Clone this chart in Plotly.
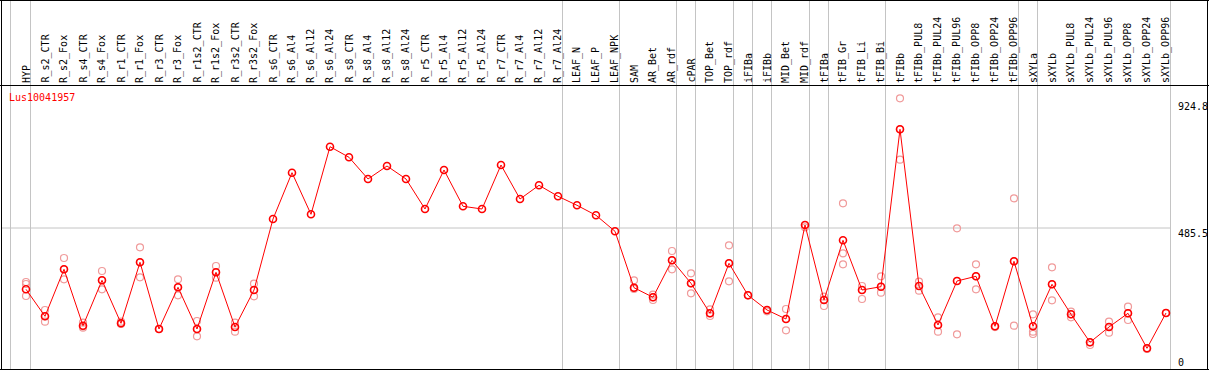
import plotly.graph_objects as go

# ---------------- data ----------------
title = "Lus10041957"

categories = [
    "HYP", "R_s2_CTR", "R_s2_Fox", "R_s4_CTR", "R_s4_Fox", "R_r1_CTR", "R_r1_Fox",
    "R_r3_CTR", "R_r3_Fox", "R_r1s2_CTR", "R_r1s2_Fox", "R_r3s2_CTR", "R_r3s2_Fox",
    "R_s6_CTR", "R_s6_Al4", "R_s6_Al12", "R_s6_Al24", "R_s8_CTR", "R_s8_Al4",
    "R_s8_Al12", "R_s8_Al24", "R_r5_CTR", "R_r5_Al4", "R_r5_Al12", "R_r5_Al24",
    "R_r7_CTR", "R_r7_Al4", "R_r7_Al12", "R_r7_Al24", "LEAF_N", "LEAF_P", "LEAF_NPK",
    "SAM", "AR_Bet", "AR_rdf", "cPAR", "TOP_Bet", "TOP_rdf", "iFIBa", "iFIBb",
    "MID_Bet", "MID_rdf", "tFIBa", "tFIB_Gr", "tFIB_Li", "tFIB_Bi", "tFIBb",
    "tFIBb_PUL8", "tFIBb_PUL24", "tFIBb_PUL96", "tFIBb_OPP8", "tFIBb_OPP24",
    "tFIBb_OPP96", "sXYLa", "sXYLb", "sXYLb_PUL8", "sXYLb_PUL24", "sXYLb_PUL96",
    "sXYLb_OPP8", "sXYLb_OPP24", "sXYLb_OPP96",
]

mean_values = [
    277.9, 186.4, 345.6, 154.6, 308.4, 162.7, 369.3, 143.4, 284.7, 143.4, 335.5,
    150.2, 275.5, 516.0, 672.8, 531.9, 760.9, 725.0, 651.5, 695.5, 651.5, 549.9,
    682.0, 559.0, 549.9, 698.9, 583.7, 630.1, 592.9, 562.4, 528.5, 474.3, 283.3,
    250.8, 376.1, 298.2, 196.6, 365.9, 257.6, 207.8, 177.3, 495.7, 241.6, 443.8,
    275.5, 286.7, 819.8, 289.1, 157.0, 306.0, 321.9, 152.6, 372.7, 152.6, 294.8,
    193.2, 98.4, 150.2, 196.6, 78.0, 197.6,
]

replicate_values = [
    [302.6, 295.8, 255.2], [207.8, 186.4, 168.1], [383.9, 345.6, 311.7],
    [164.7, 152.0, 147.8], [339.9, 308.4, 277.9], [168.1, 162.7, 160.3],
    [420.1, 369.3, 318.5], [143.4, 143.4], [311.7, 284.7, 257.6],
    [170.5, 143.4, 118.7], [356.8, 335.5, 317.2], [164.7, 150.2, 134.3],
    [296.8, 275.5, 254.2],
    [], [], [], [], [], [], [], [], [], [], [], [], [], [], [], [], [], [], [],
    [308.4, 278.9, 283.3], [259.6, 250.8, 241.6], [407.6, 376.1, 345.6],
    [332.1, 298.2, 264.3], [210.1, 196.6, 187.4], [426.9, 365.9, 305.0],
    [257.6, 257.6], [203.4, 207.8], [211.2, 177.3, 139.0], [487.9, 495.7],
    [252.8, 241.6, 221.3], [569.2, 399.8, 362.6], [289.1, 275.5, 245.0],
    [321.9, 286.7, 266.4], [924.8, 819.8, 716.8], [303.6, 289.1, 273.1],
    [183.0, 157.0, 134.3], [484.5, 306.0, 125.5], [362.6, 321.9, 277.9],
    [152.6, 150.0], [586.1, 372.7, 154.6], [193.2, 134.3, 126.5],
    [352.4, 294.8, 240.6], [202.0, 193.2, 183.0], [98.4, 89.2],
    [168.1, 150.2, 130.9], [218.9, 196.6, 173.9], [78.0, 76.0], [197.6, 197.6],
]

# index of the last column of each group (vertical separators)
group_ends = [0, 28, 31, 34, 35, 37, 38, 39, 41, 42, 45, 52, 53, 60]

axis_tick_values = [924.8, 485.5, 0]
axis_tick_labels = ["924.8", "485.5", "0"]
mid_grid_value = 485.5

# ---------------- layout constants ----------------
W, H = 1209, 370
PX_PER_COL = 19.0
FIRST_COL_PX = 26.0
X0 = -FIRST_COL_PX / PX_PER_COL
X1 = X0 + W / PX_PER_COL
PX_PER_UNIT = 0.29524
Y_ZERO_PX = 371.34
Y_TOP = Y_ZERO_PX / PX_PER_UNIT
Y_BOT = (Y_ZERO_PX - H) / PX_PER_UNIT

def px(x):
    return x / W

def py(y):
    return 1 - y / H

x_idx = list(range(len(categories)))

rep_x, rep_y = [], []
for i, reps in enumerate(replicate_values):
    for v in reps:
        rep_x.append(i)
        rep_y.append(v)

fig = go.Figure()
fig.add_trace(go.Scatter(
    x=rep_x, y=rep_y, mode="markers",
    marker=dict(symbol="circle-open", size=7, color="#f09a9a", line=dict(width=1.2)),
    hoverinfo="skip", showlegend=False,
))
fig.add_trace(go.Scatter(
    x=x_idx, y=mean_values, mode="lines+markers",
    line=dict(color="#ff0000", width=1),
    marker=dict(symbol="circle-open", size=7, color="#ff0000", line=dict(width=1.6)),
    showlegend=False,
))

shapes = []
GRID = "#c4c4c4"
bounds = [-0.816] + [g + 0.237 for g in group_ends]
for b in bounds:
    shapes.append(dict(type="line", xref="x", yref="paper", x0=b, x1=b,
                       y0=py(0), y1=py(369), line=dict(color=GRID, width=1), layer="below"))
shapes.append(dict(type="line", xref="paper", yref="y", x0=px(1.5), x1=px(1171),
                   y0=mid_grid_value, y1=mid_grid_value,
                   line=dict(color=GRID, width=1), layer="below"))
for (xa, ya, xb, yb) in [(1.5, 0, 1.5, 370), (0, 0.5, 1209, 0.5), (0, 85.5, 1209, 85.5),
                         (0, 369.5, 1209, 369.5), (1207.5, 0, 1207.5, 370)]:
    shapes.append(dict(type="line", xref="paper", yref="paper", x0=px(xa), x1=px(xb),
                       y0=py(ya), y1=py(yb), line=dict(color="black", width=1)))

FONT = "DejaVu Sans Mono"
annotations = []
for i, name in enumerate(categories):
    annotations.append(dict(
        x=i, xref="x", y=py(84), yref="paper", text=name, showarrow=False,
        textangle=-90, xanchor="center", yanchor="bottom",
        font=dict(family=FONT, size=10, color="black"), borderpad=0,
    ))
annotations.append(dict(
    x=px(8), xref="paper", y=py(97.5), yref="paper", text=title, showarrow=False,
    xanchor="left", yanchor="middle", font=dict(family=FONT, size=10, color="#ff0000"),
    borderpad=0,
))
label_centers_px = [107, 233, 362.5]
for lab, cy in zip(axis_tick_labels, label_centers_px):
    annotations.append(dict(
        x=px(1177), xref="paper", y=py(cy), yref="paper", text=lab, showarrow=False,
        xanchor="left", yanchor="middle", font=dict(family=FONT, size=10, color="black"),
        borderpad=0,
    ))

fig.update_layout(
    width=W, height=H, margin=dict(l=0, r=0, t=0, b=0),
    paper_bgcolor="white", plot_bgcolor="white",
    xaxis=dict(range=[X0, X1], visible=False, fixedrange=True),
    yaxis=dict(range=[Y_BOT, Y_TOP], visible=False, fixedrange=True),
    shapes=shapes, annotations=annotations,
)

fig.write_html(
    "out.html",
    config={"displayModeBar": False},
    post_script="document.body.style.margin='0';document.body.style.overflow='hidden';",
)
